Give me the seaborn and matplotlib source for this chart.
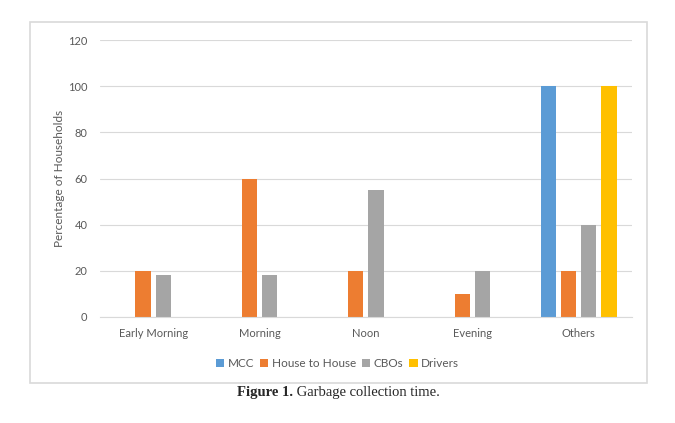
import matplotlib.pyplot as plt
import pandas as pd
import seaborn as sns
from matplotlib.patches import Rectangle

# データ
categories = ['Early Morning', 'Morning', 'Noon', 'Evening', 'Others']
series = ['MCC', 'House to House', 'CBOs', 'Drivers']
mcc = [0, 0, 0, 0, 100]
house_to_house = [20, 60, 20, 10, 20]
cbos = [18, 18, 55, 20, 40]
drivers = [0, 0, 0, 0, 100]
colors = ['#5B9BD5', '#ED7D31', '#A5A5A5', '#FFC000']

rows = []
for name, vals in zip(series, [mcc, house_to_house, cbos, drivers]):
    for cat, v in zip(categories, vals):
        rows.append({'time': cat, 'group': name, 'value': v})
df = pd.DataFrame(rows)

sns.set_style('white')
plt.rcParams['font.family'] = ['Lato', 'DejaVu Sans']

fig = plt.figure(figsize=(6.75, 4.23), dpi=100)
ax = fig.add_axes([0.148, 0.251, 0.788, 0.654])

sns.barplot(data=df, x='time', y='value', hue='group', order=categories,
            hue_order=series, palette=colors, width=0.76, gap=0.25,
            saturation=1, linewidth=0, ax=ax, legend=True)

ax.set_ylim(0, 120)
ax.set_yticks(range(0, 121, 20))
ax.yaxis.grid(True, color='#D9D9D9', linewidth=0.8)
ax.set_axisbelow(True)
for s in ['top', 'right', 'left']:
    ax.spines[s].set_visible(False)
ax.spines['bottom'].set_color('#D9D9D9')
ax.tick_params(axis='both', length=0, labelsize=8, labelcolor='#595959')
ax.tick_params(axis='x', pad=8)
ax.tick_params(axis='y', pad=9)
ax.set_xlabel('')
ax.set_ylabel('Percentage of Households', fontsize=8.5, color='#595959', labelpad=2)

handles, labels = ax.get_legend_handles_labels()
ax.get_legend().remove()
leg = fig.legend(handles, labels, loc='center', bbox_to_anchor=(0.5, 0.14), ncol=4,
                 frameon=False, fontsize=8.5, handlelength=0.7, handleheight=0.7,
                 handletextpad=0.3, columnspacing=0.5)
for t in leg.get_texts():
    t.set_color('#595959')

# 外枠
fig.patches.append(Rectangle((0.044, 0.095), 0.914, 0.853, transform=fig.transFigure,
                             fill=False, edgecolor='#D9D9D9', linewidth=1.2))

# キャプション
fig.text(0.434, 0.073, 'Figure 1.', ha='right', va='center', fontsize=10.5,
         family='Liberation Serif', fontweight='bold')
fig.text(0.434, 0.073, ' Garbage collection time.', ha='left', va='center', fontsize=10.5,
         family='Liberation Serif')

plt.savefig('out.png', dpi=100)
